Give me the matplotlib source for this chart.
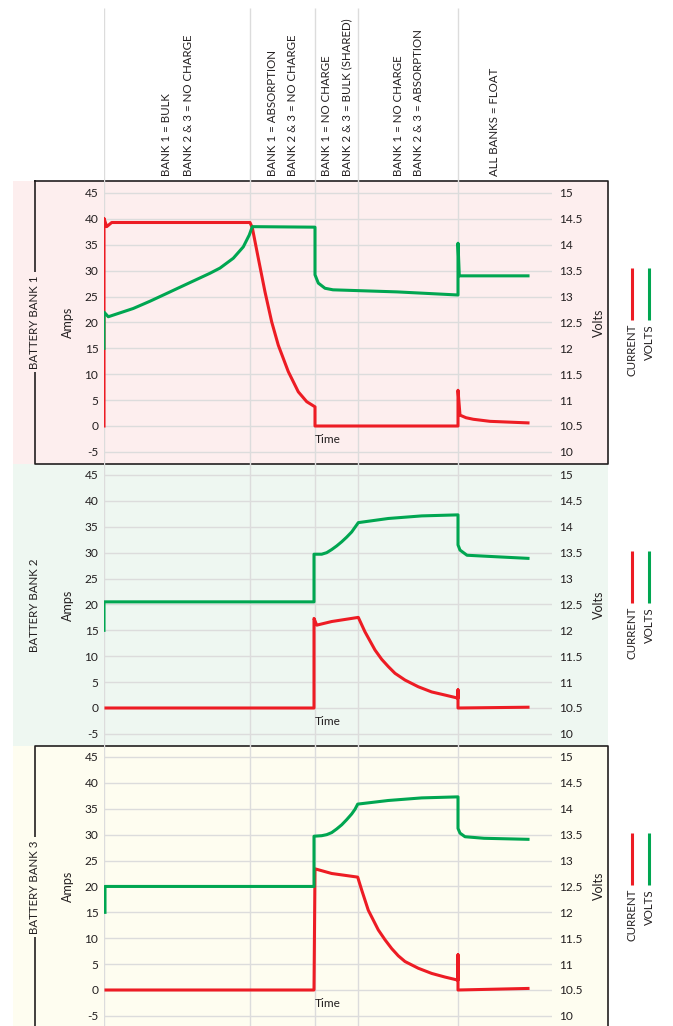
import numpy as np
import matplotlib.pyplot as plt
from matplotlib.patches import Rectangle

plt.rcParams['font.family'] = ['Lato', 'DejaVu Sans']
plt.rcParams['axes.unicode_minus'] = False

RED = '#ed1c24'
GREEN = '#00a651'
INK = '#231f20'
GRID = '#dcdcdc'

W, H = 673, 1026

# phases along the time axis and their captions
phase_t = [0, 14.6, 21.1, 25.4, 35.4]
caption_t = [6.3, 8.4, 16.8, 18.8, 22.2, 24.3, 29.5, 31.5, 39.1]
captions = ["BANK 1 = BULK", "BANK 2 & 3 = NO CHARGE",
            "BANK 1 = ABSORPTION", "BANK 2 & 3 = NO CHARGE",
            "BANK 1 = NO CHARGE", "BANK 2 & 3 = BULK (SHARED)",
            "BANK 1 = NO CHARGE", "BANK 2 & 3 = ABSORPTION",
            "ALL BANKS = FLOAT"]

amp_ticks = list(range(-5, 50, 5))
volt_ticks = [10, 10.5, 11, 11.5, 12, 12.5, 13, 13.5, 14, 14.5, 15]

# battery bank 1
b1_cur_t = [0, 0, 0.27, 0.77, 14.6, 14.83, 15.43, 16.1, 16.77, 17.43, 18.43,
            19.43, 20.27, 21.1, 21.1, 35.4, 35.4, 35.6, 36.2, 36.93, 38.6, 42.4]
b1_cur = [0, 40.1, 38.5, 39.3, 39.3, 38.3, 32.4, 25.9, 20.1, 15.6, 10.5,
          6.6, 4.7, 3.7, 0, 0, 6.9, 2.1, 1.6, 1.3, 0.9, 0.6]
b1_volt_t = [0, 0, 0.43, 2.93, 4.6, 6.27, 7.93, 9.6, 10.6, 11.6, 12.93, 13.93,
             14.53, 14.83, 21.1, 21.1, 21.43, 22.1, 22.9, 29.3, 35.4, 35.4,
             35.53, 42.4]
b1_volt = [12.0, 12.70, 12.61, 12.77, 12.91, 13.06, 13.21, 13.36, 13.45, 13.55,
           13.74, 13.96, 14.19, 14.35, 14.34, 13.42, 13.26, 13.16, 13.13, 13.09,
           13.03, 14.03, 13.40, 13.40]

# battery bank 2
b2_cur_t = [0.2, 21.0, 21.0, 21.27, 22.77, 25.43, 26.1, 27.1, 27.77, 28.43,
            29.1, 30.1, 31.43, 32.77, 34.1, 35.4, 35.4, 35.4, 42.4]
b2_cur = [0, 0, 17.3, 16.0, 16.7, 17.5, 14.7, 11.2, 9.4, 8.0,
          6.7, 5.4, 4.1, 3.1, 2.5, 1.9, 3.5, 0, 0.15]
b2_volt_t = [0, 0, 21.0, 21.0, 21.77, 22.27, 22.77, 23.27, 23.77, 24.27, 24.77,
             25.1, 25.43, 28.43, 31.77, 35.4, 35.4, 35.6, 36.3, 39.3, 42.4]
b2_volt = [12.0, 12.55, 12.55, 13.47, 13.47, 13.50, 13.56, 13.63, 13.71, 13.80,
           13.90, 13.99, 14.08, 14.16, 14.21, 14.23, 13.65, 13.55, 13.45, 13.42,
           13.39]

# battery bank 3
b3_cur_t = [0.2, 21.0, 21.1, 22.77, 25.37, 25.77, 26.43, 27.43, 28.1, 28.77,
            29.43, 30.1, 31.43, 32.77, 34.1, 35.4, 35.4, 35.4, 42.4]
b3_cur = [0, 0, 23.4, 22.5, 21.8, 19.3, 15.4, 11.6, 9.7, 8.0,
          6.6, 5.5, 4.2, 3.2, 2.5, 1.9, 6.8, 0, 0.3]
b3_volt_t = [0.1, 0.1, 21.0, 21.0, 21.77, 22.27, 22.77, 23.27, 23.77, 24.27,
             24.77, 25.1, 25.37, 28.43, 31.77, 35.4, 35.4, 35.6, 36.1, 38.0, 42.4]
b3_volt = [12.0, 12.5, 12.5, 13.47, 13.48, 13.50, 13.54, 13.61, 13.69, 13.79,
           13.90, 13.99, 14.09, 14.16, 14.21, 14.23, 13.62, 13.53, 13.46, 13.43,
           13.41]

banks = [
    ("BATTERY BANK 1", '#fdeeee', 181, 464, 426, b1_cur_t, b1_cur, b1_volt_t, b1_volt),
    ("BATTERY BANK 2", '#eef7f1', 464, 746, 708, b2_cur_t, b2_cur, b2_volt_t, b2_volt),
    ("BATTERY BANK 3", '#fefdf0', 746, 1026, 990, b3_cur_t, b3_cur, b3_volt_t, b3_volt),
]
PX_PER_AMP = 5.178
X0, X1 = 104, 552   # horizontal extent of the plotting area (px)
T_MAX = 44.8

fig = plt.figure(figsize=(W / 100, H / 100), dpi=100)

# background layer in pixel coordinates
bg = fig.add_axes([0, 0, 1, 1], zorder=0)
bg.set_xlim(0, W)
bg.set_ylim(H, 0)
bg.axis('off')

for name, col, top, bot, zero, ct, cv, vt, vv in banks:
    bg.add_patch(Rectangle((13, top), 608 - 13, bot - top, facecolor=col, edgecolor='none'))
    # legend
    bg.plot([632, 632], [top + 87, top + 139], color=RED, lw=2.2, solid_capstyle='butt')
    bg.plot([649, 649], [top + 87, top + 139], color=GREEN, lw=2.2, solid_capstyle='butt')
    bg.text(632, top + 143, "CURRENT", rotation=90, ha='center', va='top', fontsize=8.3, color=INK)
    bg.text(649, top + 143, "VOLTS", rotation=90, ha='center', va='top', fontsize=8.3, color=INK)

# frames of bank 1 and bank 3
bg.plot([35, 608, 608, 35, 35], [181, 181, 464, 464, 181], color=INK, lw=1.2)
bg.plot([35, 35, 608, 608], [H + 5, 746, 746, H + 5], color=INK, lw=1.2)

for name, col, top, bot, zero, ct, cv, vt, vv in banks:
    bg.text(35, top + 141, name, rotation=90, ha='center', va='center', fontsize=8.3,
            color=INK, bbox=dict(facecolor=col, edgecolor='none', pad=2))

# vertical phase lines and captions
ov = fig.add_axes([X0 / W, 0, (X1 - X0) / W, 1], zorder=1)
ov.set_xlim(0, T_MAX)
ov.set_ylim(H, 0)
ov.axis('off')
ov.vlines(phase_t, 8, H, color=GRID, lw=1.0)
for t, s in zip(caption_t, captions):
    ov.text(t, 176, s, rotation=90, ha='center', va='bottom', fontsize=8.3, color=INK)

for name, col, top, bot, zero, ct, cv, vt, vv in banks:
    ax = fig.add_axes([X0 / W, 1 - bot / H, (X1 - X0) / W, (bot - top) / H], zorder=2)
    ax.patch.set_visible(False)
    lo = (zero - bot) / PX_PER_AMP
    hi = (zero - top) / PX_PER_AMP
    ax.set_xlim(0, T_MAX)
    ax.set_ylim(lo, hi)
    ax.set_yticks(amp_ticks)
    ax.set_xticks([])
    ax.grid(axis='y', color=GRID, lw=1.0)
    ax.set_axisbelow(True)
    for sp in ax.spines.values():
        sp.set_visible(False)
    ax.tick_params(axis='y', length=0, pad=4, labelsize=8.6, labelcolor=INK)
    ax.set_ylabel("Amps", fontsize=9, color=INK)
    ax.yaxis.set_label_coords(-0.067, 0.5)
    ax.text(21.1, -2.6, "Time", ha='left', va='center', fontsize=8.6, color=INK)

    ax.plot(ct, cv, color=RED, lw=2.2)

    ax2 = ax.twinx()
    ax2.set_ylim(10 + (lo + 5) / 10, 10 + (hi + 5) / 10)
    ax2.set_yticks(volt_ticks)
    ax2.set_yticklabels(["%g" % v for v in volt_ticks])
    for sp in ax2.spines.values():
        sp.set_visible(False)
    ax2.tick_params(axis='y', length=0, pad=5, labelsize=8.6, labelcolor=INK)
    ax2.set_ylabel("Volts", fontsize=9, color=INK)
    ax2.yaxis.set_label_coords(1.0915, 0.5)
    ax2.plot(vt, vv, color=GREEN, lw=2.2)

fig.savefig("out.png", dpi=100)
